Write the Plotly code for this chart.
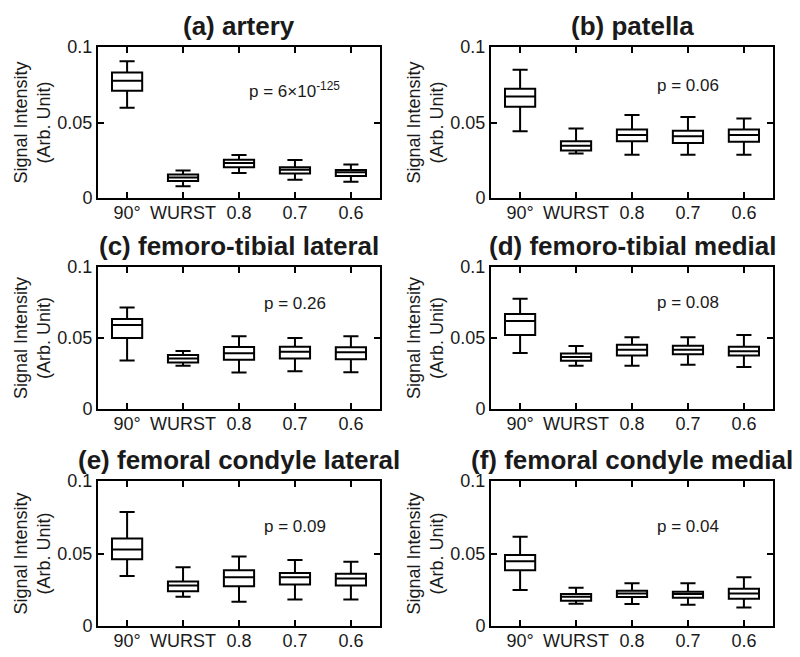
import plotly.graph_objects as go

# ---------------- data ----------------
categories = ["90°", "WURST", "0.8", "0.7", "0.6"]
panel_titles = ["(a) artery", "(b) patella", "(c) femoro-tibial lateral",
                "(d) femoro-tibial medial", "(e) femoral condyle lateral",
                "(f) femoral condyle medial"]
p_values = ["p = 6×10<sup>-125</sup>", "p = 0.06", "p = 0.26",
            "p = 0.08", "p = 0.09", "p = 0.04"]

# five-number summaries per panel (rows) and category (columns)
upper_whisker = [
    [0.0905, 0.0182, 0.0284, 0.0251, 0.0222],
    [0.0849, 0.0460, 0.0549, 0.0536, 0.0527],
    [0.0715, 0.0409, 0.0512, 0.0500, 0.0512],
    [0.0777, 0.0444, 0.0505, 0.0505, 0.0521],
    [0.0787, 0.0406, 0.0479, 0.0456, 0.0443],
    [0.0615, 0.0264, 0.0294, 0.0294, 0.0337],
]
q3 = [
    [0.0831, 0.0156, 0.0253, 0.0204, 0.0185],
    [0.0724, 0.0376, 0.0453, 0.0446, 0.0453],
    [0.0633, 0.0381, 0.0437, 0.0439, 0.0435],
    [0.0669, 0.0390, 0.0453, 0.0446, 0.0439],
    [0.0603, 0.0307, 0.0385, 0.0365, 0.0360],
    [0.0489, 0.0220, 0.0243, 0.0236, 0.0257],
]
median = [
    [0.0776, 0.0136, 0.0231, 0.0187, 0.0171],
    [0.0672, 0.0346, 0.0418, 0.0409, 0.0418],
    [0.0591, 0.0355, 0.0393, 0.0404, 0.0400],
    [0.0620, 0.0366, 0.0418, 0.0418, 0.0406],
    [0.0528, 0.0280, 0.0337, 0.0337, 0.0328],
    [0.0447, 0.0202, 0.0225, 0.0220, 0.0225],
]
q1 = [
    [0.0710, 0.0112, 0.0204, 0.0163, 0.0145],
    [0.0604, 0.0315, 0.0376, 0.0365, 0.0372],
    [0.0500, 0.0327, 0.0346, 0.0355, 0.0350],
    [0.0521, 0.0340, 0.0376, 0.0385, 0.0376],
    [0.0461, 0.0239, 0.0275, 0.0287, 0.0280],
    [0.0385, 0.0174, 0.0200, 0.0195, 0.0188],
]
lower_whisker = [
    [0.0598, 0.0077, 0.0165, 0.0121, 0.0108],
    [0.0442, 0.0295, 0.0287, 0.0287, 0.0287],
    [0.0341, 0.0304, 0.0257, 0.0266, 0.0259],
    [0.0394, 0.0305, 0.0305, 0.0312, 0.0296],
    [0.0344, 0.0202, 0.0167, 0.0183, 0.0183],
    [0.0248, 0.0154, 0.0151, 0.0147, 0.0128],
]
y_ticks = [0, 0.05, 0.1]
y_ticktext = ["0", "0.05", "0.1"]

# ---------------- layout constants ----------------
PAGE_W, PAGE_H = 800, 657
BODY_MARGIN = 8                      # default browser body margin
W, H = PAGE_W - BODY_MARGIN, PAGE_H - BODY_MARGIN
col_px = [(98, 380), (491, 773)]     # in page pixels
row_px = [(47, 198), (267, 409), (481, 626)]
p_pos_y = [0.0715, 0.0744, 0.0743, 0.0751, 0.0683, 0.0683]

FONT = "Liberation Sans, Arial, Helvetica, sans-serif"
TXT = "#1a1a1a"

fig = go.Figure()
annotations = []
xs = list(range(len(categories)))

for i in range(6):
    r, c = divmod(i, 2)
    xa = "x" if i == 0 else f"x{i+1}"
    ya = "y" if i == 0 else f"y{i+1}"
    xl = "xaxis" if i == 0 else f"xaxis{i+1}"
    yl = "yaxis" if i == 0 else f"yaxis{i+1}"
    x0, x1 = (v - BODY_MARGIN for v in col_px[c])
    y0, y1 = (v - BODY_MARGIN for v in row_px[r])

    fig.add_trace(go.Box(
        x=xs, q1=q1[i], median=median[i], q3=q3[i],
        lowerfence=lower_whisker[i], upperfence=upper_whisker[i],
        xaxis=xa, yaxis=ya, width=0.54, whiskerwidth=0.5,
        fillcolor="white", line=dict(color="black", width=2),
        boxpoints=False, showlegend=False, hoverinfo="skip"))

    fig.layout[xl] = dict(
        domain=[x0 / W, x1 / W], anchor=ya, range=[-0.52, 4.52],
        tickvals=xs, ticktext=categories, ticks="inside", ticklen=6,
        tickwidth=1.5, tickcolor="black", showline=True, linecolor="black",
        linewidth=2, mirror="ticks", showgrid=False, zeroline=False,
        automargin=False, ticklabelstandoff=-3,
        tickfont=dict(family=FONT, size=18, color=TXT), fixedrange=True)
    fig.layout[yl] = dict(
        domain=[1 - y1 / H, 1 - y0 / H], anchor=xa, range=[0, 0.1],
        tickvals=y_ticks, ticktext=y_ticktext, ticks="inside", ticklen=6,
        tickwidth=1.5, tickcolor="black", showline=True, linecolor="black",
        linewidth=2, mirror="ticks", showgrid=False, zeroline=False,
        automargin=False,
        tickfont=dict(family=FONT, size=18, color=TXT), fixedrange=True)

    # panel title
    annotations.append(dict(
        text=f"<b>{panel_titles[i]}</b>", xref=f"{xa} domain", yref=f"{ya} domain",
        x=0.5, y=1, xanchor="center", yanchor="bottom", yshift=4,
        showarrow=False, font=dict(family=FONT, size=26, color=TXT)))
    # y axis title
    annotations.append(dict(
        text="Signal Intensity<br>(Arb. Unit)", xref=f"{xa} domain",
        yref=f"{ya} domain", x=0, y=0.5, xanchor="center", yanchor="middle",
        xshift=-66, textangle=-90, showarrow=False,
        font=dict(family=FONT, size=18, color=TXT)))
    # p-value
    annotations.append(dict(
        text=p_values[i], xref=xa, yref=ya, x=3, y=p_pos_y[i],
        xanchor="center", yanchor="middle", showarrow=False,
        font=dict(family=FONT, size=17, color=TXT)))

fig.update_layout(
    width=W, height=H, margin=dict(l=0, r=0, t=0, b=0, autoexpand=False),
    paper_bgcolor="white", plot_bgcolor="white",
    annotations=annotations, showlegend=False)

fig.write_html("out.html")
